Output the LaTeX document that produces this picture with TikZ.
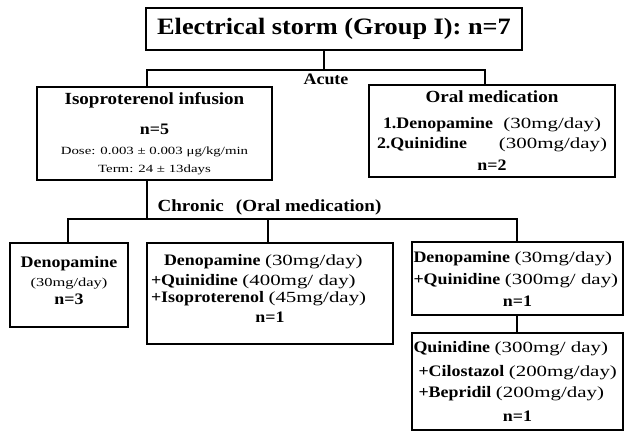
\documentclass[tikz,border=0pt]{standalone}
\usepackage{fontspec}
\setmainfont{Liberation Serif}[FakeStretch=1.12]
\newfontfamily\dosefont{Liberation Serif}[FakeStretch=1.35]
\usepackage{tikz}
\usetikzlibrary{calc, positioning}

\newcommand{\dose}[2][15.5]{{\dosefont\mdseries\fontsize{#1}{18}\selectfont #2}}
\newcommand{\bigline}[1]{{\fontsize{17}{18}\selectfont #1}}

\begin{document}
\begin{tikzpicture}[x=1pt, y=1pt, line width=1.3pt,
  box/.style={draw, inner sep=0pt, align=center, font=\fontsize{16}{18}\selectfont\bfseries},
  lbl/.style={inner sep=0pt, font=\fontsize{16}{18}\selectfont\bfseries}]
  \useasboundingbox (0,0) rectangle (624,-431);
  \node (storm) at (334,-29) [box, minimum width=376pt, minimum height=42pt,
    font=\fontsize{23.5}{27}\selectfont\bfseries] {Electrical storm (Group I): n=7};
  \node (iso) at (154.5,-133.5) [box, minimum width=235pt, minimum height=93pt]
    {\bigline{Isoproterenol infusion}\\[12pt]
     n=5\\[2.5pt]
     \dose[11]{Dose: 0.003 ± 0.003 μg/kg/min}\\[0pt]
     \dose[11]{Term: 24 ± 13days}};
  \node (oral) at (492,-131) [box, minimum width=246pt, minimum height=92pt]
    {\bigline{Oral medication}\\[8pt]
     \makebox[218pt][l]{1.Denopamine\hfill\dose{(30mg/day)}}\\[2pt]
     \makebox[230pt][l]{2.Quinidine\hfill\dose{(300mg/day)}}\\[4pt]
     n=2};
  \node (acute) at (326,-79) [lbl] {Acute};
  \node (chronic) at (157,-207) [lbl, anchor=west, font=\fontsize{17}{18}\selectfont\bfseries]
    {Chronic\hspace{12pt}(Oral medication)};
  \node (denop) at (69,-285) [box, minimum width=118pt, minimum height=84pt]
    {Denopamine\\[1pt]
     \dose[12.2]{(30mg/day)}\\[0pt]
     n=3\\[-8pt]\mbox{}};
  \node (triple) at (270,-293.5) [box, minimum width=246pt, minimum height=101pt]
    {\makebox[238pt][l]{\hspace*{13pt}Denopamine \dose{(30mg/day)}}\\[2pt]
     \makebox[238pt][l]{+Quinidine \dose{(400mg/ day)}}\\[-1pt]
     \makebox[238pt][l]{+Isoproterenol \dose{(45mg/day)}}\\[2pt]
     n=1\\[-8pt]\mbox{}};
  \node (combo) at (517.5,-278.5) [box, minimum width=211pt, minimum height=73pt]
    {\makebox[208pt][l]{Denopamine \dose{(30mg/day)}}\\[4pt]
     \makebox[208pt][l]{+Quinidine \dose{(300mg/ day)}}\\[4pt]
     n=1};
  \node (quin) at (517.5,-381.5) [box, minimum width=211pt, minimum height=97pt]
    {\makebox[208pt][l]{Quinidine \dose{(300mg/ day)}}\\[6pt]
     \makebox[208pt][l]{\hspace*{5pt}+Cilostazol \dose{(200mg/day)}}\\[3pt]
     \makebox[208pt][l]{\hspace*{5pt}+Bepridil \dose{(200mg/day)}}\\[6pt]
     n=1};
  \coordinate (ja) at (324,-70);
  \coordinate (al) at (147,-70);
  \coordinate (ar) at (485,-70);
  \draw (storm.south -| ja) -- (ja);
  \draw (iso.north -| al) -- (al) -- (ar) -- (oral.north -| ar);
  \coordinate (jc) at (147,-219);
  \coordinate (cl) at (68,-219);
  \coordinate (cm) at (268,-219);
  \coordinate (cr) at (517,-219);
  \draw (iso.south -| jc) -- (jc);
  \draw (denop.north -| cl) -- (cl) -- (cr) -- (combo.north -| cr);
  \draw (cm) -- (triple.north -| cm);
  \draw (combo.south -| cr) -- (quin.north -| cr);
\end{tikzpicture}
\end{document}
